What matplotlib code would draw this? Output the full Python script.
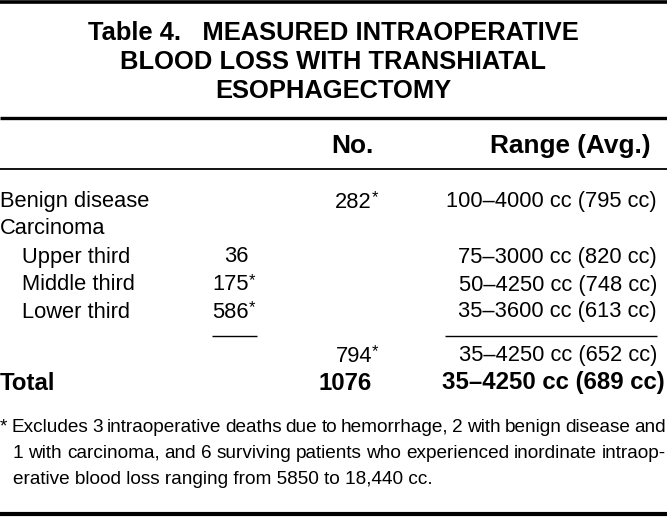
import matplotlib
matplotlib.use("Agg")
import matplotlib.pyplot as plt

# ---- table content ----
title_lines = ["Table 4.   MEASURED INTRAOPERATIVE",
               "BLOOD LOSS WITH TRANSHIATAL",
               "ESOPHAGECTOMY"]
col_headers = ["No.", "Range (Avg.)"]
row_labels = ["Benign disease", "Carcinoma", "Upper third", "Middle third", "Lower third", "", "Total"]
sub_counts = ["", "", "36", "175*", "586*", "", ""]
counts = ["282*", "", "", "", "", "794*", "1076"]
ranges = ["100\u20134000 cc (795 cc)", "", "75\u20133000 cc (820 cc)", "50\u20134250 cc (748 cc)",
          "35\u20133600 cc (613 cc)", "35\u20134250 cc (652 cc)", "35\u20134250 cc (689 cc)"]
indented = [False, False, True, True, True, False, False]
footnote = ["* Excludes 3 intraoperative deaths due to hemorrhage, 2 with benign disease and",
            "1 with carcinoma, and 6 surviving patients who experienced inordinate intraop-",
            "erative blood loss ranging from 5850 to 18,440 cc."]

W, H = 667, 518
FONT = ["Liberation Sans", "DejaVu Sans"]
NARROW = ["Liberation Sans Narrow", "Liberation Sans", "DejaVu Sans"]

fig = plt.figure(figsize=(W / 100, H / 100), dpi=100)
ax = fig.add_axes([0, 0, 1, 1])
ax.set_xlim(0, W)
ax.set_ylim(H, 0)
ax.axis("off")
renderer = fig.canvas.get_renderer()


def width_of(t):
    return t.get_window_extent(renderer).width


def fitted_size(s, target_w, weight="normal", family=FONT):
    t = ax.text(0, -100, s, fontsize=10, family=family, weight=weight)
    w = width_of(t)
    t.remove()
    return 10 * target_w / w


# rules
ax.hlines(2, 0, W, color="black", lw=2.6)
ax.hlines(118, 0, W, color="black", lw=2.4)
ax.hlines(169, 0, W, color="black", lw=1.3)
ax.hlines(513.5, 0, W, color="black", lw=3.0)
ax.hlines(335.5, 212, 257, color="black", lw=1.0)
ax.hlines(335.5, 445, 657, color="black", lw=1.0)

# title
ts = fitted_size(title_lines[0], 490, "bold")
for s, y in zip(title_lines, [33, 62, 91]):
    ax.text(W / 2, y, s, ha="center", va="center", fontsize=ts, weight="bold", family=FONT)

# header
hs = fitted_size("Range (Avg.)", 162, "bold")
ax.text(352, 146, col_headers[0], ha="center", va="center", fontsize=hs, weight="bold", family=FONT)
ax.text(570, 146, col_headers[1], ha="center", va="center", fontsize=hs, weight="bold", family=FONT)

# body
bs = fitted_size("100\u20134000 cc (795 cc)", 211, family=NARROW)
tb = fitted_size(ranges[-1], 222, "bold")
row_y = [202, 229, 257, 285, 312, 356, 383]
for i, y in enumerate(row_y):
    last = i == len(row_y) - 1
    wt = "bold" if last else "normal"
    sz = tb if last else bs
    fam = FONT if last else NARROW
    if row_labels[i]:
        ax.text(22 if indented[i] else 0, y, row_labels[i], ha="left", va="center",
                fontsize=sz, weight=wt, family=fam)
    if sub_counts[i]:
        ax.text(249, y, sub_counts[i].rstrip("*"), ha="right", va="center", fontsize=bs, family=NARROW)
        if sub_counts[i].endswith("*"):
            ax.text(249, y - 4, "*", ha="left", va="center", fontsize=bs * 0.75, family=NARROW)
    if counts[i]:
        ax.text(372, y, counts[i].rstrip("*"), ha="right", va="center", fontsize=sz, weight=wt, family=fam)
        if counts[i].endswith("*"):
            ax.text(372, y - 4, "*", ha="left", va="center", fontsize=bs * 0.75, family=NARROW)
    if ranges[i]:
        ax.text(665 if last else 657, y, ranges[i], ha="right", va="center",
                fontsize=sz, weight=wt, family=fam)

# footnote, first two lines justified to the full width
fs = fitted_size(footnote[2], 422, family=NARROW)
foot_y = [427, 453, 479]
foot_x0 = [0, 13, 13]
for k, (s, y) in enumerate(zip(footnote, foot_y)):
    if k < 2:
        words = s.split(" ")
        objs = [ax.text(0, y, wd, ha="left", va="center", fontsize=fs, family=NARROW) for wd in words]
        widths = [width_of(o) for o in objs]
        gap = (666 - foot_x0[k] - sum(widths)) / (len(words) - 1)
        x = foot_x0[k]
        for o, w in zip(objs, widths):
            o.set_x(x)
            x += w + gap
    else:
        ax.text(foot_x0[k], y, s, ha="left", va="center", fontsize=fs, family=NARROW)

fig.savefig("out.png", dpi=100)
